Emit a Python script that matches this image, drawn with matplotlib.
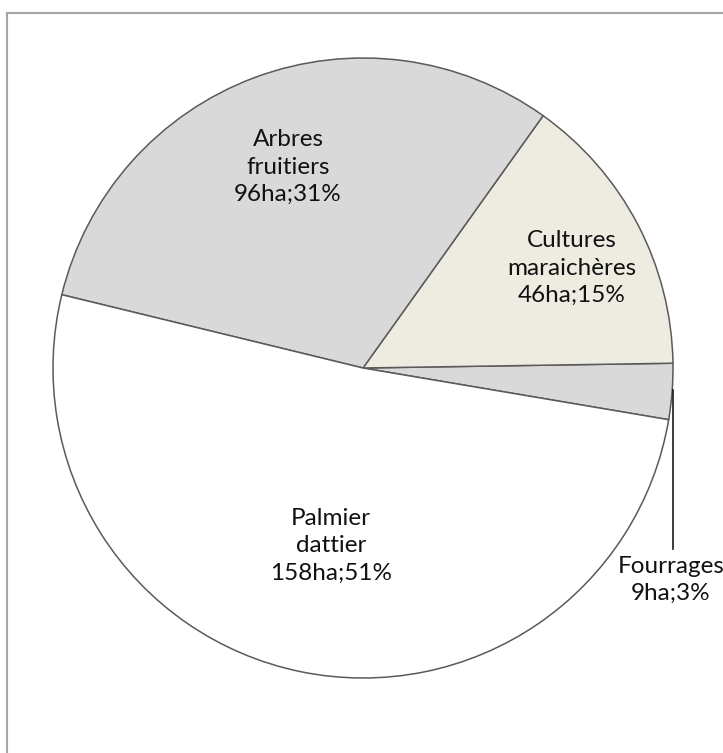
import matplotlib
matplotlib.use("Agg")
import matplotlib.pyplot as plt
from matplotlib.lines import Line2D

categories = ["Fourrages", "Cultures\nmaraichères", "Arbres\nfruitiers", "Palmier\ndattier"]
values_ha = [9, 46, 96, 158]
percent_labels = ["3%", "15%", "31%", "51%"]
colors = ["#d9d9d9", "#eeece1", "#d9d9d9", "#ffffff"]

W, H = 723, 753
fig = plt.figure(figsize=(W / 100, H / 100), dpi=100)
ax = fig.add_axes([0, 0, 1, 1])

cx, cy, R = 363, H - 368, 310
wedges, _ = ax.pie(values_ha, colors=colors, startangle=-9.6, counterclock=True,
                   center=(cx, cy), radius=R, frame=True,
                   wedgeprops=dict(edgecolor="#5a5a5a", linewidth=1.1))
ax.set_xlim(0, W)
ax.set_ylim(0, H)
ax.set_aspect("equal")
ax.axis("off")

font = dict(family=["Lato", "DejaVu Sans"], fontsize=17.5, color="#111111",
            ha="center", va="center", linespacing=1.38)

label_pos = [(671, H - 580), (572, H - 268), (288, H - 167), (331, H - 546)]
for cat, v, p, (x, y) in zip(categories, values_ha, percent_labels, label_pos):
    ax.text(x, y, f"{cat}\n{v}ha;{p}", **font)

# leader line for Fourrages
ax.add_line(Line2D([673, 673], [H - 390, H - 549], color="#1a1a1a", lw=1.2))

# chart frame
fig.add_artist(Line2D([6.5, 6.5], [0, H - 12.5], transform=None, color="#a6a6a6", lw=1.5))
fig.add_artist(Line2D([6.5, W], [H - 12.5, H - 12.5], transform=None, color="#a6a6a6", lw=1.5))

fig.savefig("out.png", dpi=100)
